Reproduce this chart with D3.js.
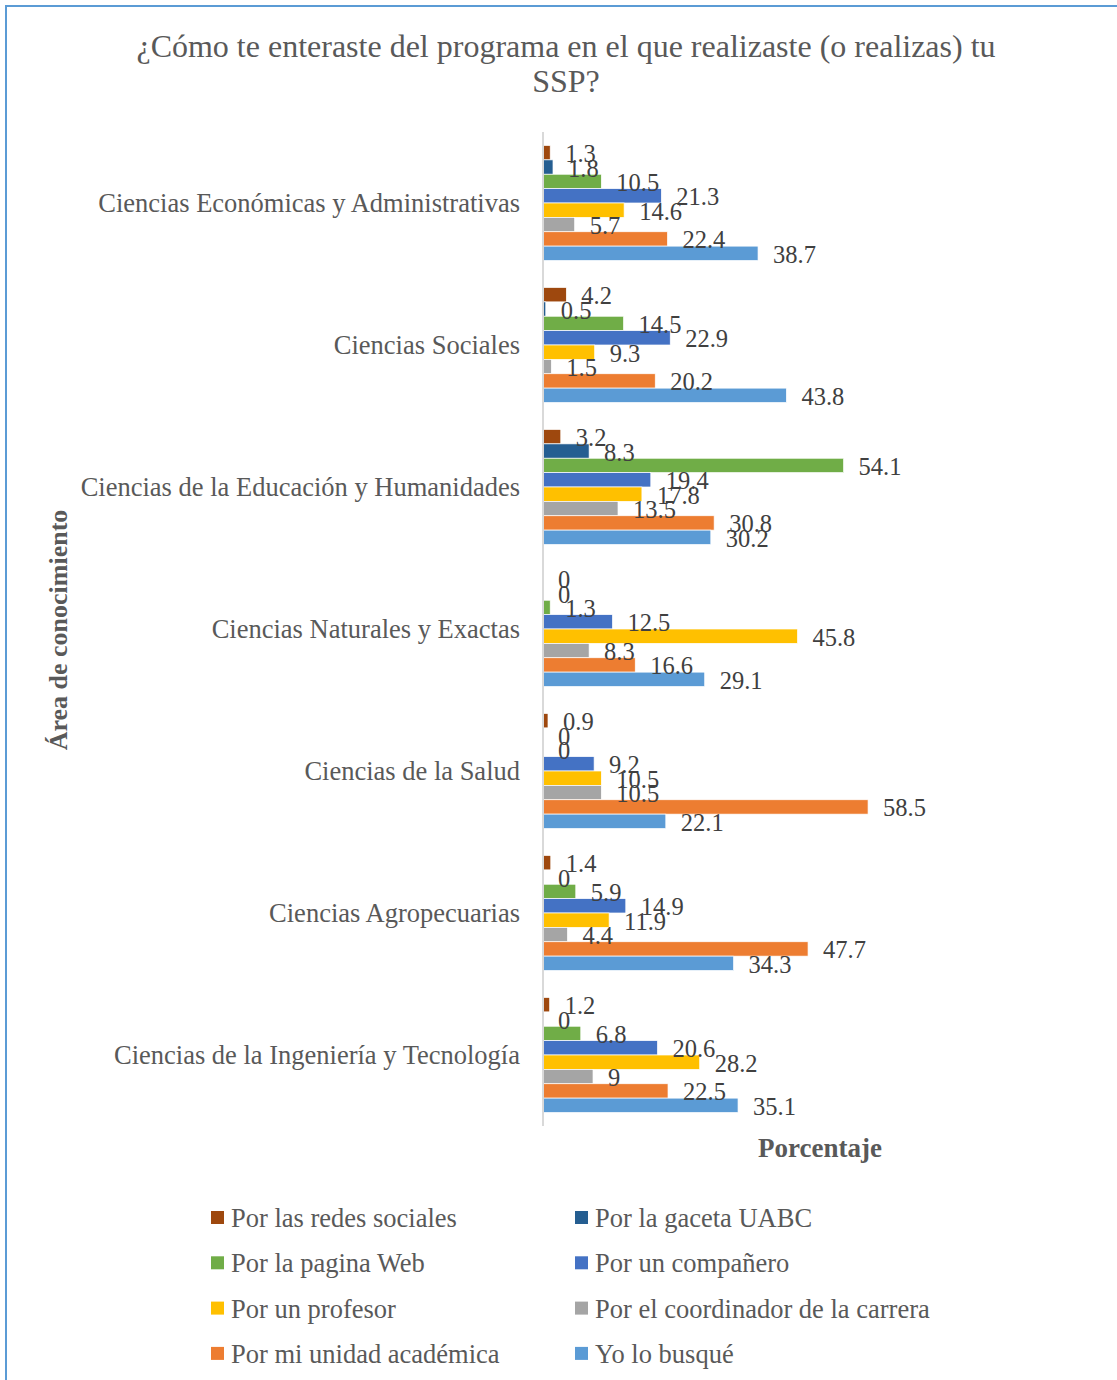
<!doctype html>
<html>
<head>
    <meta charset="utf-8">
    <script src="https://d3js.org/d3.v7.min.js"></script>
    <style>
        body { margin: 0; background: #fff; }
        text { font-family: "Liberation Serif", "Times New Roman", serif; }
    </style>
</head>
<body>
    <svg width="1117" height="1380" id="mainsvg"></svg>
    <script>
        // areas (top to bottom)
        const areas = [
            "Ciencias Económicas y Administrativas",
            "Ciencias Sociales",
            "Ciencias de la Educación y Humanidades",
            "Ciencias Naturales y Exactas",
            "Ciencias de la Salud",
            "Ciencias Agropecuarias",
            "Ciencias de la Ingeniería y Tecnología"
        ];
        const series = [
            "Por las redes sociales",
            "Por la gaceta UABC",
            "Por la pagina Web",
            "Por un compañero",
            "Por un profesor",
            "Por el coordinador de la carrera",
            "Por mi unidad académica",
            "Yo lo busqué"
        ];
        const colors = ["#9E480E", "#255E91", "#70AD47", "#4472C4", "#FFC000", "#A5A5A5", "#ED7D31", "#5B9BD5"];

        // one array per series, values follow the order of areas
        const redes       = [1.3, 4.2, 3.2, 0, 0.9, 1.4, 1.2];
        const gaceta      = [1.8, 0.5, 8.3, 0, 0, 0, 0];
        const web         = [10.5, 14.5, 54.1, 1.3, 0, 5.9, 6.8];
        const companero   = [21.3, 22.9, 19.4, 12.5, 9.2, 14.9, 20.6];
        const profesor    = [14.6, 9.3, 17.8, 45.8, 10.5, 11.9, 28.2];
        const coordinador = [5.7, 1.5, 13.5, 8.3, 10.5, 4.4, 9];
        const unidad      = [22.4, 20.2, 30.8, 16.6, 58.5, 47.7, 22.5];
        const busque      = [38.7, 43.8, 30.2, 29.1, 22.1, 34.3, 35.1];
        const values = [redes, gaceta, web, companero, profesor, coordinador, unidad, busque];

        const svg = d3.select('#mainsvg');

        // border of the chart area
        svg.append('line').attr('x1', 5).attr('x2', 1117).attr('y1', 6).attr('y2', 6)
            .attr('stroke', '#5B9BD5').attr('stroke-width', 2);
        svg.append('line').attr('x1', 6).attr('x2', 6).attr('y1', 5).attr('y2', 1380)
            .attr('stroke', '#5B9BD5').attr('stroke-width', 2);

        // title
        const title = svg.append('text')
            .attr('text-anchor', 'middle')
            .attr('fill', '#595959')
            .style('font-size', '32px');
        title.append('tspan').attr('x', 566).attr('y', 57)
            .text('¿Cómo te enteraste del programa en el que realizaste (o realizas) tu');
        title.append('tspan').attr('x', 566).attr('y', 92).text('SSP?');

        const x0 = 543;
        const x = d3.scaleLinear().domain([0, 60]).range([x0, x0 + 333.4]);
        const y = d3.scaleBand().domain(areas).range([132, 1126])
            .paddingInner(0.19).paddingOuter(0.095);
        const ySub = d3.scaleBand().domain(series).range([0, y.bandwidth()]);

        const rows = [];
        areas.forEach((a, i) => {
            series.forEach((s, j) => rows.push({area: a, serie: s, value: values[j][i], color: colors[j]}));
        });

        const g = svg.append('g');

        g.selectAll('rect.bar')
            .data(rows)
            .join('rect')
            .attr('class', 'bar')
            .attr('x', x(0))
            .attr('y', d => y(d.area) + ySub(d.serie))
            .attr('width', d => x(d.value) - x(0))
            .attr('height', ySub.bandwidth())
            .attr('fill', d => d.color)
            .attr('stroke', '#fff')
            .attr('stroke-width', 0.7);

        g.selectAll('text.lbl')
            .data(rows)
            .join('text')
            .attr('class', 'lbl')
            .attr('x', d => x(d.value) + 15)
            .attr('y', d => y(d.area) + ySub(d.serie) + ySub.bandwidth() / 2 + 1)
            .attr('dominant-baseline', 'central')
            .attr('fill', '#404040')
            .style('font-size', '24.5px')
            .text(d => d.value);

        // vertical axis line
        svg.append('line')
            .attr('x1', x0).attr('x2', x0)
            .attr('y1', 132).attr('y2', 1126)
            .attr('stroke', '#D9D9D9').attr('stroke-width', 2);

        // category labels
        svg.append('g').selectAll('text')
            .data(areas)
            .join('text')
            .attr('x', 520)
            .attr('y', d => y(d) + y.bandwidth() / 2)
            .attr('text-anchor', 'end')
            .attr('dominant-baseline', 'central')
            .attr('fill', '#595959')
            .style('font-size', '26.5px')
            .text(d => d);

        // axis titles
        svg.append('text')
            .attr('transform', 'translate(58,630) rotate(-90)')
            .attr('text-anchor', 'middle')
            .attr('dominant-baseline', 'central')
            .attr('fill', '#595959')
            .style('font-size', '26px')
            .style('font-weight', 'bold')
            .text('Área de conocimiento');

        svg.append('text')
            .attr('x', 820).attr('y', 1148)
            .attr('text-anchor', 'middle')
            .attr('dominant-baseline', 'central')
            .attr('fill', '#595959')
            .style('font-size', '27px')
            .style('font-weight', 'bold')
            .text('Porcentaje');

        // legend
        const legend = svg.append('g').selectAll('g')
            .data(series)
            .join('g')
            .attr('transform', (d, i) => `translate(${i % 2 === 0 ? 211 : 575}, ${1218 + Math.floor(i / 2) * 45.3})`);
        legend.append('rect')
            .attr('x', 0).attr('y', -7)
            .attr('width', 13).attr('height', 13)
            .attr('fill', (d, i) => colors[i]);
        legend.append('text')
            .attr('x', 20).attr('y', 0)
            .attr('dominant-baseline', 'central')
            .attr('fill', '#595959')
            .style('font-size', '26.5px')
            .text(d => d);
    </script>
</body>
</html>
